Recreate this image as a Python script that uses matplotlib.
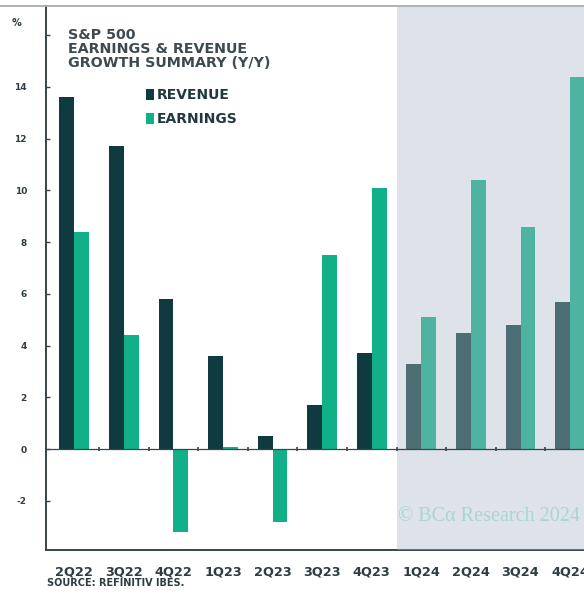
import numpy as np
import matplotlib.pyplot as plt

# S&P 500 revenue and earnings growth, y/y %
quarters = ['2Q22', '3Q22', '4Q22', '1Q23', '2Q23', '3Q23', '4Q23',
            '1Q24', '2Q24', '3Q24', '4Q24']
revenue = [13.6, 11.7, 5.8, 3.6, 0.5, 1.7, 3.7, 3.3, 4.5, 4.8, 5.7]
earnings = [8.4, 4.4, -3.2, 0.1, -2.8, 7.5, 10.1, 5.1, 10.4, 8.6, 14.4]
y_ticks = [-2, 0, 2, 4, 6, 8, 10, 12, 14, 16]
first_estimate = 7  # quarters from here on are estimates

plt.rcParams['font.family'] = ['DejaVu Sans']
plt.rcParams['font.weight'] = 'bold'
txt = '#2f3d42'

fig = plt.figure(figsize=(5.84, 5.95), dpi=100)
ax = fig.add_axes([0.0795, 0.0756, 0.9205, 0.9143])

x = np.arange(len(quarters))
w = 0.3
ax.bar(x - w / 2, revenue, w, color='#0f3a3f', zorder=2, label='REVENUE')
ax.bar(x + w / 2, earnings, w, color='#12b088', zorder=2, label='EARNINGS')

# estimates are shaded over
ax.axvspan(first_estimate - 0.5, len(quarters) + 1, color='#abbac8',
           alpha=0.4, lw=0, zorder=3)

ax.axhline(0, color='#3a4448', lw=0.9, zorder=4)
ax.plot(x + 0.5, np.zeros(len(x)), ls='none', marker='|', ms=3,
        mew=1.2, color='#3a4448', zorder=4)

ax.set_xlim(-0.56, 10.28)
ax.set_ylim(-3.9, 17.13)
ax.set_yticks(y_ticks)
ax.set_yticklabels([str(v) if v < 16 else '' for v in y_ticks])
ax.tick_params(axis='y', direction='in', length=3, width=1, color='#3a4448',
               pad=14, labelsize=6.5, labelcolor=txt)
ax.set_xticks(x)
ax.set_xticklabels(quarters)
ax.tick_params(axis='x', length=0, pad=11, labelsize=9.3, labelcolor=txt)

ax.spines['right'].set_visible(False)
for s in ['left', 'bottom']:
    ax.spines[s].set_color('#3a4448')
    ax.spines[s].set_linewidth(1.4)
ax.spines['top'].set_visible(False)
fig.add_artist(plt.Line2D([0, 1], [0.9905, 0.9905], color='#a9aeb0', lw=1.3))

ax.text(-0.055, 0.968, '%', transform=ax.transAxes, fontsize=7,
        color=txt, ha='center', va='center', clip_on=False)

ax.text(0.04, 0.96, 'S&P 500\nEARNINGS & REVENUE\nGROWTH SUMMARY (Y/Y)',
        transform=ax.transAxes, fontsize=10.3, color='#3d4a4f',
        va='top', ha='left', linespacing=1.02)

leg = ax.legend(loc='upper left', bbox_to_anchor=(0.172, 0.862), frameon=False,
                borderpad=0, handlelength=0.6, handleheight=0.8,
                handletextpad=0.2, labelspacing=0.72,
                prop={'weight': 'bold', 'size': 10})
for t in leg.get_texts():
    t.set_color('#1e3a3f')

ax.text(0.992, 0.062, '\u00a9 BC\u03b1 Research 2024', transform=ax.transAxes,
        family=['Liberation Serif', 'DejaVu Serif'], fontweight='normal',
        fontsize=14.5, color='#a9d7d0', ha='right', va='center', zorder=5)

fig.text(0.08, 0.02, 'SOURCE: REFINITIV IBES.', fontsize=7,
         color=txt, ha='left', va='center')

fig.savefig('out.png', dpi=100)
